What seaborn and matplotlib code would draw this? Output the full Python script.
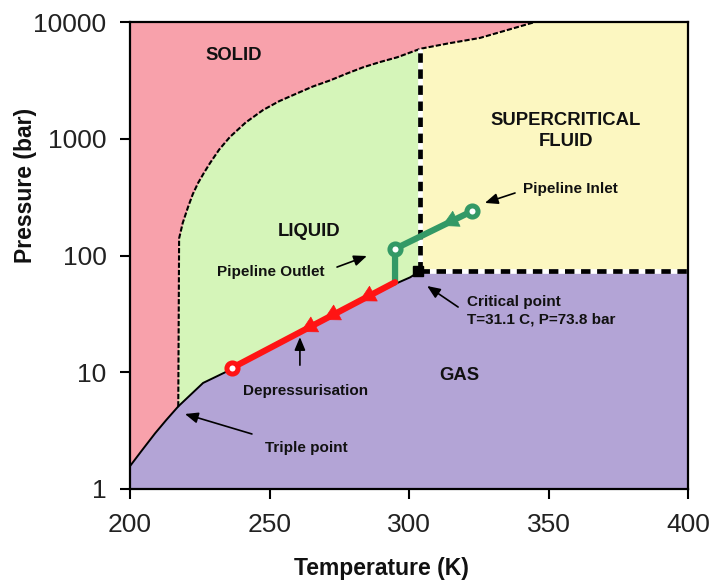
import numpy as np
import pandas as pd
import matplotlib
matplotlib.use("Agg")
import matplotlib.pyplot as plt
from matplotlib.ticker import FixedLocator, NullLocator, FixedFormatter
import seaborn as sns

# ---------------- data ----------------
# phase boundaries (Temperature K, Pressure bar)
sub_T = [200.0, 204.0, 209.0, 213.0, 217.3]
sub_P = [1.57, 2.1, 3.0, 3.9, 5.1]
vap_T = [217.3, 226.2, 235.8, 247.7, 259.9, 271.7, 283.5, 295.7, 300.4, 304.1]
vap_P = [5.1, 8.1, 10.45, 15.5, 21.7, 29.7, 41.6, 58.0, 65.0, 73.8]
melt_T = [217.3, 217.6, 218.9, 220.8, 222.5, 224.4, 226.5, 228.7, 232.0, 235.8,
          241.5, 247.7, 253.5, 259.9, 265.5, 271.7, 277.5, 283.5, 289.6, 295.7,
          304.1, 314.0, 325.4, 335.0, 345.2]
melt_P = [5.1, 140, 190, 260, 335, 418, 510, 620, 810, 1035,
          1380, 1763, 2100, 2450, 2800, 3160, 3600, 4090, 4540, 4980,
          5900, 6550, 7300, 8500, 10000]
crit_T, crit_P = 304.1, 73.8

# pipeline path
green_T = [322.6, 295.0, 295.0]
green_P = [240.0, 114.0, 59.0]
red_T = [295.0, 236.6]
red_P = [59.0, 10.9]
green_head_frac = [0.39]
red_head_frac = [0.22, 0.44, 0.58]

# axis
x_ticks = [200, 250, 300, 350, 400]
y_ticks = [1, 10, 100, 1000, 10000]
y_tick_labels = ["1", "10", "100", "1000", "10000"]

# labels: (text, T, P, ha)
region_labels = [("SOLID", 237.1, 5115, "center"),
                 ("LIQUID", 264.3, 162, "center"),
                 ("SUPERCRITICAL\nFLUID", 356.1, 1165, "center"),
                 ("GAS", 318.1, 9.3, "center")]
note_labels = [("Pipeline Inlet", 340.9, 371, "left"),
               ("Pipeline Outlet", 250.5, 72.2, "center"),
               ("Critical point\nT=31.1 C, P=73.8 bar", 320.8, 33.5, "left"),
               ("Depressurisation", 262.9, 6.9, "center"),
               ("Triple point", 263.3, 2.25, "center")]
# arrows: (tip T, tip P, tail T, tail P)
note_arrows = [(327.2, 282, 338.0, 343),
               (284.9, 99, 274.2, 79.6),
               (306.5, 54.8, 317.6, 36.2),
               (260.9, 20.0, 260.9, 11.5),
               (219.7, 4.39, 243.7, 2.96)]

# colours
c_solid = "#f8a1ab"
c_liquid = "#d5f5b9"
c_super = "#fcf7c1"
c_gas = "#b3a4d6"
c_green = "#339966"
c_red = "#ff1414"

# ---------------- figure ----------------
sns.set_theme(style="ticks")
plt.rcParams["font.family"] = ["Liberation Sans", "DejaVu Sans"]

fig = plt.figure(figsize=(7.12, 5.81), dpi=100)
ax = fig.add_axes([130 / 712, 1 - 489 / 581, 558 / 712, 467 / 581])
ax.set_yscale("log")
ax.set_xlim(200, 400)
ax.set_ylim(1, 10000)

# regions
ax.set_facecolor(c_solid)
ax.fill_betweenx(melt_P, melt_T, 400, color=c_liquid, lw=0, zorder=1)

mT = np.array(melt_T)
mP = np.array(melt_P)
sel = mT >= crit_T
sc_T = list(mT[sel]) + [400, 400, crit_T]
sc_P = list(mP[sel]) + [10000, crit_P, crit_P]
ax.fill(sc_T, sc_P, color=c_super, lw=0, zorder=1)

gas_T = sub_T + vap_T[1:] + [400, 400, 200]
gas_P = sub_P + vap_P[1:] + [crit_P, 1, 1]
ax.fill(gas_T, gas_P, color=c_gas, lw=0, zorder=1)

# boundaries
for xs, ys in [(sub_T, sub_P), (vap_T, vap_P)]:
    sns.lineplot(x=xs, y=ys, sort=False, estimator=None, color="black",
                 lw=1.4, ax=ax, zorder=3)
sns.lineplot(x=melt_T, y=melt_P, sort=False, estimator=None, color="black",
             lw=1.5, ax=ax, zorder=3, linestyle=(0, (2.5, 1)))

# critical dashed lines
top_P = mP[mT >= crit_T][0]
for xs, ys in [([crit_T, crit_T], [crit_P, top_P]), ([crit_T, 400], [crit_P, crit_P])]:
    ax.plot(xs, ys, color="white", lw=3.4, zorder=4, solid_capstyle="butt")
    ax.plot(xs, ys, color="black", lw=3.4, zorder=5, dashes=(2.0, 1.4),
            dash_capstyle="butt")
ax.plot([crit_T - 1.0], [crit_P], marker="s", color="black", ms=7.5, zorder=6)

# pipeline path
sns.lineplot(x=green_T, y=green_P, sort=False, estimator=None, color=c_green,
             lw=4.5, ax=ax, zorder=7)
sns.lineplot(x=red_T, y=red_P, sort=False, estimator=None, color=c_red,
             lw=4.5, ax=ax, zorder=7)
ax.plot([green_T[0], green_T[1]], [green_P[0], green_P[1]], ls="none",
        marker="o", ms=8, mfc="white", mec=c_green, mew=3.6, zorder=9)
ax.plot([red_T[-1]], [red_P[-1]], ls="none", marker="o", ms=8, mfc="white",
        mec=c_red, mew=3.6, zorder=9)


def head(T0, P0, T1, P1, f, color):
    lp0, lp1 = np.log10(P0), np.log10(P1)
    tipT = T0 + f * (T1 - T0)
    tipP = 10 ** (lp0 + f * (lp1 - lp0))
    g = f - 0.08
    tailT = T0 + g * (T1 - T0)
    tailP = 10 ** (lp0 + g * (lp1 - lp0))
    ax.annotate("", xy=(tipT, tipP), xytext=(tailT, tailP), zorder=8,
                arrowprops=dict(arrowstyle="-|>,head_length=0.55,head_width=0.3",
                                mutation_scale=20, color=color, lw=0.5,
                                shrinkA=0, shrinkB=0))


for f in green_head_frac:
    head(green_T[0], green_P[0], green_T[1], green_P[1], f, c_green)
for f in red_head_frac:
    head(red_T[0], red_P[0], red_T[1], red_P[1], f, c_red)

# texts
for txt, T, P, ha in region_labels:
    ax.text(T, P, txt, ha=ha, va="center", fontsize=13.3, fontweight="bold",
            color="#111111", linespacing=1.28, zorder=10)
for txt, T, P, ha in note_labels:
    ax.text(T, P, txt, ha=ha, va="center", fontsize=11, fontweight="bold",
            color="#111111", linespacing=1.3, zorder=10)
for tT, tP, sT, sP in note_arrows:
    ax.annotate("", xy=(tT, tP), xytext=(sT, sP), zorder=10,
                arrowprops=dict(arrowstyle="-|>,head_length=0.6,head_width=0.25",
                                mutation_scale=13, color="black", lw=1.2,
                                shrinkA=0, shrinkB=0))

# axes styling
ax.xaxis.set_major_locator(FixedLocator(x_ticks))
ax.yaxis.set_major_locator(FixedLocator(y_ticks))
ax.yaxis.set_major_formatter(FixedFormatter(y_tick_labels))
ax.yaxis.set_minor_locator(NullLocator())
ax.tick_params(axis="both", which="major", direction="out", length=7, width=1.5,
               labelsize=19, pad=10, color="black", labelcolor="#222222")
ax.tick_params(top=False, right=False)
for s in ax.spines.values():
    s.set_linewidth(1.6)
    s.set_color("black")
    s.set_zorder(12)

ax.set_xlabel("Temperature (K)", fontsize=16.5, fontweight="bold", color="#111111")
ax.set_ylabel("Pressure (bar)", fontsize=16.5, fontweight="bold", color="#111111")
ax.xaxis.set_label_coords(0.4507, -0.146)
ax.yaxis.set_label_coords(-0.166, 0.649)

fig.savefig("out.png", dpi=100)
